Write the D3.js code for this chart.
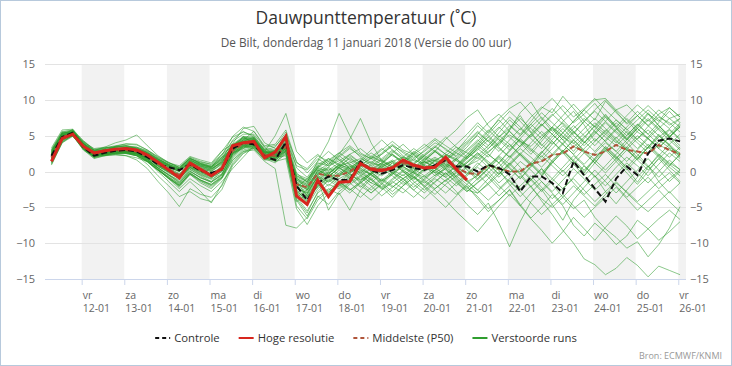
<!DOCTYPE html>
<html><head><meta charset="utf-8">
<script src="https://cdn.jsdelivr.net/npm/d3@7"></script>
<style>
html,body{margin:0;padding:0;background:#fff;}
svg{display:block;font-family:"Open Sans","Liberation Sans",sans-serif;}
</style></head><body>
<svg id="chart" width="732" height="366"></svg>
<script>
// ---------------- DATA ----------------
const titleText = "Dauwpunttemperatuur (˚C)";
const subtitleText = "De Bilt, donderdag 11 januari 2018 (Versie do 00 uur)";
const sourceText = "Bron: ECMWF/KNMI";
const dayNames = ["vr","za","zo","ma","di","wo","do","vr","za","zo","ma","di","wo","do","vr"];
const dayDates = ["12-01","13-01","14-01","15-01","16-01","17-01","18-01","19-01","20-01","21-01","22-01","23-01","24-01","25-01","26-01"];
const yTicks = [-15,-10,-5,0,5,10,15];
const firstHour = 7;   // first forecast step, hours after 11-01 00:00 (local time)
const stepHours = 6;   // 6-hourly forecast steps
const legendNames = ["Controle","Hoge resolutie","Middelste (P50)","Verstoorde runs"];

const hogeResolutie = [1.4,4.6,5.2,3.5,2.6,2.9,3.1,3.2,3.0,2.3,1.3,0.2,-0.9,1.2,0.3,-0.6,0.4,
  3.6,4.0,4.2,1.9,2.7,4.9,-3.4,-4.6,-1.2,-3.5,-1.5,-1.4,1.1,0.3,0.1,0.5,1.6,0.9,0.5,0.6,2.0,0.3,-1.2];

const controle = [2.2,4.8,5.4,3.4,2.2,2.6,2.9,3.0,2.8,2.0,1.0,0.6,0.2,1.0,0.1,-0.2,0.3,
  3.2,4.0,3.8,2.1,1.6,4.1,-2.0,-4.0,-1.6,-0.7,-1.2,-1.2,1.4,0.2,-0.3,0.2,0.9,0.5,0.2,0.9,1.6,0.7,0.7,
  0.0,0.9,0.5,-0.4,-2.8,-0.7,-0.7,-1.6,-3.0,1.4,-0.5,-2.4,-4.2,-1.0,0.7,-0.5,2.5,4.3,4.6,4.2];

const middelste = [2.0,4.8,5.3,3.6,2.4,2.7,2.9,3.0,2.8,2.1,1.1,0.3,-0.5,0.9,0.2,-0.4,0.4,
  2.9,3.9,4.0,2.3,2.2,3.5,-1.8,-2.2,-0.3,-0.6,-0.6,0.0,1.0,0.5,0.3,0.6,1.2,0.7,0.6,0.8,1.5,0.6,-0.2,
  -0.4,0.9,0.4,0.0,0.0,1.1,1.4,2.3,2.5,3.5,2.8,2.3,2.8,3.7,3.0,2.8,2.5,3.7,3.0,2.4];

const verstoordeRuns = [
 [1.2,4.2,5.6,4.0,2.9,3.0,3.4,3.6,3.3,2.6,1.6,0.8,0.0,1.5,0.9,0.6,1.8, 3.3,4.5,4.4,2.8,2.6,4.0, -1.0,-1.8, 0.4,0.1,0.8,1.2,1.8,1.1,0.9,1.4,2.0,1.5,1.2,1.6,2.3,1.5,0.8, 1.5,2.8,3.9,5.1,4.2,3.5,5.0,6.2,4.8,3.9,5.3,6.8,5.5,4.2,3.1,4.6,5.8,4.4,3.3,2.6],
 [2.5,5.0,5.0,3.2,2.0,2.3,2.5,2.6,2.2,1.0,-0.6,-2.0,-3.5,-2.8,-3.8,-4.2,-2.5, 0.8,2.5,3.2,1.8,1.2,2.6, -3.5,-5.5, -3.0,-1.8,-2.4,-1.5,-0.6,-1.6,-2.2,-1.0,0.2,-0.8,-1.6,-0.5,0.4,-1.2,-2.6, -3.0,-1.8,-0.4,1.2,-0.3,-2.1,-0.8,1.6,2.9,1.4,-0.2,1.8,3.5,2.2,0.4,-1.5,0.6,2.4,1.2,0.3],
 [3.0,5.5,5.8,3.4,2.0,2.8,3.5,3.9,3.8,3.0,1.9,1.2,0.6,2.0,1.4,1.0,2.8, 4.8,5.5,5.0,3.0,3.4,5.5, 0.5,-0.8, 1.2,0.8,1.5,2.4,3.2,2.0,1.4,2.6,3.8,2.4,1.6,2.8,4.5,5.8,7.5, 8.6,6.4,4.8,6.0,7.8,5.5,3.6,5.2,7.0,8.4,6.5,4.2,5.6,7.2,5.9,4.5,6.3,7.6,6.8,5.5],
 [0.9,4.0,4.9,3.9,3.0,2.6,2.4,2.2,1.9,1.4,0.2,-1.0,-2.0,-0.4,-1.4,-2.2,-0.9, 2.0,3.5,3.8,2.6,2.9,4.5, -2.6,-4.2, -1.5,-2.8,-2.0,-0.6,0.5,-0.5,-1.3,-0.4,0.7,-0.2,-0.8,0.2,1.0,-0.8,-2.2, -3.5,-5.2,-4.0,-2.5,-4.6,-6.5,-5.0,-3.2,-4.8,-7.5,-9.0,-7.2,-8.5,-10.2,-9.0,-6.8,-8.0,-9.6,-8.4,-7.0],
 [2.8,5.3,5.0,3.0,1.8,2.2,2.6,2.8,2.4,1.6,0.5,-0.5,-1.6,0.0,-0.9,-1.4,0.2, 2.6,3.6,3.7,2.0,1.8,3.0, -2.4,-3.0, -0.8,-1.5,-0.4,0.6,1.4,0.5,-0.3,0.8,1.6,0.4,-0.6,0.5,1.2,0.0,-1.4, -0.6,1.0,0.2,-1.8,-3.5,-2.0,-4.1,-6.0,-8.2,-10.0,-12.2,-13.0,-14.4,-13.5,-12.0,-13.1,-14.7,-13.2,-13.8,-14.4],
 [2.3,5.1,5.4,3.6,2.5,2.8,3.0,3.1,2.7,1.7,0.3,-0.8,-2.2,-0.4,-1.6,-2.4,-1.0, 1.5,3.0,3.4,2.2,2.0,3.2, -3.0,-4.5, -2.0,-1.0,-1.9,-0.8,0.2,-1.0,-2.5,-1.6,-0.4,-1.8,-3.0,-1.5,-0.2,-1.4,-2.8, -1.5,-0.2,1.2,-0.6,-2.4,-1.2,0.4,-1.8,-3.6,-5.2,-4.0,-6.4,-8.0,-9.2,-10.7,-9.8,-11.9,-10.2,-7.9,-4.9],
 [1.5,4.4,5.7,4.3,3.1,3.3,3.6,3.8,3.7,3.0,2.1,1.3,0.5,1.8,1.3,1.0,2.4, 4.2,5.2,5.2,3.4,3.6,5.0, -0.2,-1.5, 1.5,4.2,8.1,5.0,2.6,1.8,2.4,3.6,2.8,1.9,2.8,4.0,3.2,2.0,3.4, 5.2,6.8,8.0,6.5,5.2,7.0,8.8,10.2,8.5,6.8,8.0,9.5,7.6,6.2,7.8,9.3,8.0,7.0,8.9,7.6],
 [2.6,5.4,5.6,3.2,2.1,2.9,3.4,3.4,3.1,2.6,1.7,0.9,0.2,1.5,0.9,0.5,1.6, 3.5,4.8,4.6,2.4,2.2,3.8, -1.2,-2.0, 0.0,1.2,2.4,4.5,7.4,4.0,1.5,0.6,1.4,2.6,1.8,0.9,1.6,2.8,4.6, 6.4,5.0,3.6,5.8,8.2,9.7,7.4,5.6,6.8,5.5,4.0,5.4,7.0,8.6,7.2,5.5,4.6,6.0,7.4,6.2],
 [2.4,5.0,5.1,3.3,2.2,2.5,2.7,2.8,2.5,1.5,0.2,-1.0,-2.0,-0.2,-1.2,-1.8,-0.6, 1.8,3.2,3.6,2.0,1.4,2.4, -4.0,-6.2, -3.6,-2.4,-3.2,-1.8,-0.8,-2.0,-3.4,-2.2,-1.0,-2.6,-3.8,-2.4,-1.2,-2.8,-4.6, -6.0,-4.4,-7.2,-10.5,-7.0,-4.2,-2.5,-4.6,-6.8,-4.0,-2.2,-0.6,-2.8,-4.5,-2.6,-0.8,0.8,-1.4,-3.0,-1.6],
 [1.1,4.1,5.0,4.1,3.2,3.4,3.3,3.0,2.6,1.7,0.5,-0.5,-1.5,0.1,-0.9,-1.5,-0.4, 2.4,3.4,3.6,2.2,2.4,3.6, -2.2,-3.6, -1.2,-0.2,-1.4,-2.6,-1.6,-0.4,-1.8,-3.2,-2.0,-0.8,-2.2,-3.6,-5.0,-3.4,-2.0, -3.8,-5.6,-4.0,-2.6,-4.8,-6.6,-8.2,-10.0,-8.4,-6.4,-8.0,-9.6,-7.8,-6.2,-7.6,-9.4,-8.0,-6.6,-5.4,-6.7],
 [3.3,5.8,5.9,3.9,2.4,2.7,3.1,3.4,3.4,2.9,2.0,1.2,0.8,2.1,1.6,1.2,2.9, 3.8,4.2,4.8,3.2,3.0,4.4, 0.8,0.2, 1.8,0.8,2.0,3.2,2.2,1.2,2.6,3.8,2.6,1.6,3.0,4.4,3.0,2.2,3.8, 5.0,3.6,5.4,7.2,5.8,7.6,9.0,8.2,10.5,8.8,7.0,8.6,10.0,8.4,6.6,7.8,9.2,7.8,6.5,7.4],
 [1.4,4.3,5.1,3.5,2.4,2.4,2.5,2.6,2.5,2.0,1.2,0.5,-0.3,1.0,0.4,0.0,1.0, 2.8,3.8,4.1,2.5,2.3,3.4, -1.5,-2.4, 0.2,-0.6,0.4,1.0,0.2,-0.4,0.8,1.6,0.6,0.0,1.2,2.0,1.0,0.4,1.8, 3.2,2.0,4.0,5.6,4.2,2.8,4.6,6.2,5.0,3.4,4.8,6.4,5.2,4.0,5.6,4.4,3.2,4.8,5.9,4.6],
 [2.7,5.3,5.5,3.3,2.0,2.5,2.8,3.0,2.6,1.7,0.5,-0.4,-1.4,0.3,-0.6,-1.4,-0.4, 2.5,3.7,3.9,2.1,2.0,3.3, -2.8,-3.8, -1.8,-3.0,-1.6,-0.4,-1.4,-2.6,-1.2,0.0,-1.0,-2.2,-1.0,0.2,-0.8,-2.0,-0.6, 0.6,-0.8,-2.4,-1.0,0.4,-1.2,-2.8,-1.4,0.2,-1.6,-3.2,-1.8,-0.4,-2.0,-3.6,-2.2,-0.8,-2.4,-1.0,0.2],
 [1.9,4.9,5.0,3.8,2.8,2.6,2.7,2.9,3.0,2.5,1.6,0.9,0.2,1.6,1.0,0.5,1.9, 3.2,4.1,4.3,2.6,2.5,3.7, -1.6,-2.6, -0.2,0.6,-0.4,0.4,1.2,0.2,-0.6,0.4,1.4,0.8,0.0,0.8,1.8,0.6,-0.4, 0.8,2.4,1.2,3.0,4.6,3.2,2.0,3.8,5.4,4.0,2.6,4.2,5.8,4.4,3.0,1.8,3.4,5.0,3.6,2.2],
 [2.6,5.1,5.2,3.3,2.1,2.4,2.6,2.6,2.3,1.4,0.0,-1.4,-2.8,-1.4,-2.8,-4.4,-1.8, 1.2,2.8,3.3,1.6,1.6,2.8, -4.8,-6.6, -4.0,-2.6,-1.4,-2.4,-3.6,-2.2,-1.0,-2.0,-3.0,-1.6,-0.6,-1.8,-3.0,-1.6,-0.4, 1.2,0.0,-1.6,-0.2,1.4,0.2,-1.4,-2.8,-1.2,0.4,-1.0,-2.6,-1.2,0.6,2.0,0.8,-0.6,1.0,2.6,1.4],
 [2.4,4.9,5.0,3.1,1.9,2.2,2.3,2.2,1.6,0.4,-1.4,-3.0,-4.9,-2.4,-3.2,-3.6,-2.0, 1.0,2.6,3.4,2.2,1.8,3.0, -3.8,-5.8, -2.8,-1.2,0.2,-1.0,-2.2,-0.8,0.4,-0.6,-1.8,-0.4,0.8,-0.2,-1.4,0.0,1.2, 2.6,1.2,-0.4,1.0,2.4,1.0,-0.6,1.2,2.8,1.4,0.0,1.6,3.2,1.8,0.2,1.8,3.4,2.0,0.6,-0.6],
 [1.8,4.7,5.6,4.0,2.9,3.4,4.0,4.4,5.1,3.6,2.2,1.2,0.6,1.8,1.2,0.8,2.2, 4.9,6.2,5.6,3.6,3.8,5.8, 1.2,0.4, 2.2,1.4,2.6,3.6,2.4,1.8,3.0,4.2,3.0,2.4,3.4,4.6,3.6,2.6,4.0, 5.4,4.2,6.0,7.6,6.2,4.8,6.4,8.0,6.6,5.2,7.0,8.4,7.0,5.6,4.4,6.0,7.4,6.0,4.8,6.2],
 [2.9,5.4,5.5,3.5,2.2,2.6,3.0,3.2,3.1,2.5,1.5,0.8,0.3,1.6,1.0,0.6,2.4, 3.6,4.6,4.5,2.8,5.0,8.1, 2.8,1.2, 2.4,1.0,2.2,3.4,2.0,0.8,1.8,3.0,2.0,1.2,2.4,3.6,2.4,1.6,2.8, 4.2,5.8,4.4,3.0,4.6,6.2,7.6,6.0,4.4,6.0,7.4,6.2,4.8,3.6,5.0,6.6,5.2,3.8,5.2,6.8],
 [1.6,4.5,5.2,3.2,2.6,2.9,2.6,2.5,2.2,1.3,0.2,-0.9,-1.9,-0.3,-1.2,-1.8,-0.8, 1.6,2.8,3.0,1.4,0.4,-7.5, -7.9,-6.4, -3.4,-4.6,-2.8,-1.6,-2.8,-4.0,-2.6,-1.4,-2.4,-3.6,-2.2,-1.0,-2.0,-3.2,-1.8, -0.4,-1.8,-3.4,-2.0,-0.6,-2.2,-3.8,-5.0,-3.6,-2.0,-3.4,-4.8,-3.2,-1.6,-2.8,-4.2,-2.8,-1.4,-0.2,-1.6],
 [2.2,4.6,5.1,3.9,2.7,2.4,2.8,3.3,3.0,2.0,0.7,-0.2,-1.0,0.5,-0.4,-1.0,0.9, 2.9,4.0,4.2,2.4,2.1,3.2, -2.0,-3.4, -1.2,-5.4,-3.0,-5.4,-2.6,-1.0,-2.2,-3.6,-2.0,-0.8,-2.0,-3.2,-1.8,-0.6,-1.8, -3.0,-1.6,0.0,-1.4,-2.8,-1.2,0.4,-1.0,-2.4,-0.8,0.8,-0.6,-2.0,-0.4,1.2,-0.2,-1.6,0.0,1.6,0.2],
 [3.1,5.6,5.7,3.7,2.3,2.9,3.2,3.1,2.8,2.4,1.5,0.7,0.0,1.3,0.7,0.2,1.4, 3.4,4.4,4.4,2.7,2.6,3.9, -0.8,-1.4, 0.6,1.8,1.0,0.2,1.4,2.6,1.6,0.8,2.0,3.2,2.2,1.4,2.6,3.8,5.2, 6.8,5.4,7.4,8.8,9.7,8.0,6.4,7.8,9.2,7.6,8.8,10.2,8.6,7.2,5.8,7.2,8.6,7.2,6.0,7.4],
 [1.3,4.2,5.0,3.3,2.5,2.9,3.1,3.2,2.5,1.6,0.7,0.0,-0.8,0.6,0.0,-0.5,0.2, 2.9,3.9,4.0,2.3,2.2,3.5, -1.7,-2.2, -0.4,0.4,-0.6,0.2,1.0,0.0,0.6,1.4,0.4,-0.2,1.0,1.8,0.8,0.2,1.4, 2.6,1.4,0.2,1.8,3.2,2.0,0.6,2.2,3.8,2.4,1.0,2.6,4.0,2.8,1.4,3.0,4.6,3.2,2.0,3.4],
 [2.0,5.2,5.8,3.9,2.6,3.1,3.0,2.8,2.6,2.3,1.4,0.7,0.1,1.4,0.6,0.1,1.2, 3.1,4.2,4.2,2.6,2.4,3.6, -1.4,-2.0, 0.0,-0.8,0.6,1.4,0.4,-0.4,0.6,1.4,0.2,-0.8,0.4,1.6,0.6,-0.6,0.8, 2.2,3.6,5.0,3.8,2.4,4.0,5.6,4.2,2.8,4.4,6.0,7.4,6.0,4.6,6.2,7.8,6.4,5.0,3.8,5.2],
 [2.5,4.8,5.2,3.1,2.2,2.5,2.9,2.6,2.2,1.5,0.5,-0.5,-1.2,0.3,-0.5,-1.1,-0.3, 2.6,3.6,3.9,2.2,2.0,3.0, -2.2,-3.0, -0.6,-1.4,-0.2,0.8,-0.2,-1.2,0.2,1.2,0.0,-1.0,0.4,1.4,0.2,-1.0,-2.4, -1.0,0.4,1.8,0.4,-1.0,0.6,2.2,0.8,-0.6,1.0,2.6,1.2,-0.2,1.4,3.0,1.6,0.2,1.8,3.2,1.8],
 [1.6,4.9,5.9,4.2,3.0,3.2,3.4,3.6,3.2,2.7,1.8,1.0,0.4,1.9,1.1,0.7,2.0, 3.7,4.7,4.7,2.9,2.8,4.2, -0.4,-1.0, 0.8,0.2,1.2,2.2,1.2,0.6,1.6,2.8,1.8,1.0,2.2,3.4,2.4,1.8,3.0, 4.4,3.2,4.8,6.4,5.0,6.6,8.2,6.8,5.4,7.0,8.6,7.2,9.8,8.2,6.8,8.4,7.0,8.6,7.4,8.0],
 [2.9,5.2,5.0,3.0,2.1,2.3,2.6,2.7,2.4,1.5,0.3,-0.7,-1.8,-0.2,-1.2,-1.9,-0.8, 2.4,3.4,3.6,1.9,1.6,2.6, -3.2,-4.8, -2.4,-1.2,-2.2,-1.0,0.0,-1.2,-2.4,-1.2,0.0,-1.4,-2.6,-1.4,-0.2,-1.6,-2.8, -1.6,-0.4,-2.0,-3.4,-2.0,-0.6,-2.2,-3.8,-2.4,-1.0,-2.6,-4.2,-2.8,-1.4,-3.0,-4.4,-5.6,-4.2,-2.8,-4.4],
 [1.5,4.5,5.4,3.8,2.7,3.1,3.3,3.3,3.0,2.4,1.4,0.6,0.0,1.4,0.8,0.3,1.4, 3.3,4.3,4.4,2.7,2.6,3.9, -1.0,-1.6, 0.6,1.4,0.4,-0.2,0.8,1.8,1.0,0.2,1.2,2.2,1.4,0.6,1.6,2.6,1.8, 3.0,4.4,3.2,2.0,3.6,5.2,6.6,5.2,3.8,5.4,7.0,5.6,4.2,5.8,7.4,6.0,4.6,3.4,4.8,6.4],
 [2.0,4.7,5.1,3.5,2.4,2.2,2.4,2.5,2.2,1.4,0.2,-0.9,-1.9,-0.3,-1.3,-2.0,-0.9, 2.2,3.3,3.5,1.8,1.6,2.8, -3.0,-4.2, -1.8,-0.6,-1.8,-3.0,-1.6,-0.4,-1.6,-2.8,-1.4,-0.2,-1.4,-2.6,-4.0,-5.6,-7.0, -8.4,-6.6,-4.8,-3.2,-4.8,-3.0,-1.4,-3.0,-4.6,-3.0,-1.4,0.2,-1.4,-3.0,-1.4,0.2,1.8,0.2,-1.4,0.0],
 [2.3,5.2,5.6,3.4,2.2,2.9,3.3,3.0,2.6,2.0,1.0,0.2,-0.6,0.8,0.0,-0.6,0.4, 3.0,4.0,4.2,2.5,2.3,3.6, -1.8,-2.5, 0.2,-0.4,1.0,0.4,-0.6,0.4,1.2,0.2,-0.6,0.6,1.4,0.4,-0.4,0.8,2.0, 3.4,4.8,6.2,4.8,3.4,5.0,6.6,5.2,3.8,2.4,4.0,5.6,4.2,2.8,4.4,6.0,4.6,3.2,4.8,6.2],
 [1.0,4.0,5.2,3.9,2.9,3.2,3.5,3.5,3.2,2.6,1.7,1.0,0.4,1.8,1.1,0.6,1.7, 3.5,4.6,4.6,2.8,2.7,4.1, -0.6,-1.2, 1.0,1.8,0.8,0.0,1.2,2.2,1.4,0.6,1.6,2.8,2.0,1.0,2.2,3.4,2.6, 1.8,3.2,4.6,3.4,5.0,6.6,5.2,3.8,5.4,7.0,8.6,10.0,10.2,8.6,9.3,7.8,6.4,8.0,8.9,7.6],
 [2.7,5.4,5.3,3.2,2.0,2.3,2.5,2.6,2.3,1.4,0.2,-0.8,-1.7,0.0,-0.8,-1.5,-0.5, 2.5,3.5,3.7,2.0,1.8,2.9, -2.6,-3.6, -1.4,-0.4,-1.6,-2.6,-1.4,-0.2,-1.2,-2.2,-1.0,0.0,-1.2,-2.4,-1.2,-0.2,-1.4, -2.6,-4.0,-2.6,-1.2,-2.8,-4.4,-6.0,-4.6,-3.2,-4.8,-6.4,-5.0,-3.6,-2.2,-3.8,-5.4,-4.0,-2.6,-4.2,-5.6],
 [2.1,4.9,5.4,3.6,2.4,2.7,2.9,3.0,2.8,2.1,1.1,0.3,-0.5,0.9,0.2,-0.4,0.4, 2.9,3.9,4.0,2.3,2.2,3.5, -1.8,-2.2, -0.3,-0.6,-0.6,0.0,1.0,0.5,0.3,0.6,1.2,0.7,0.6,0.8,1.5,0.6,-0.2, -0.4,0.9,0.4,0.0,0.0,1.1,1.4,2.3,2.5,3.5,2.8,2.3,2.8,3.7,3.0,2.8,2.5,3.7,3.0,2.4],
 [1.7,4.4,5.0,3.6,2.6,2.9,3.1,2.9,2.5,1.9,0.8,-0.1,-1.0,0.5,-0.3,-0.9,0.0, 2.7,3.7,3.8,2.1,2.0,3.2, -2.0,-2.8, -0.8,0.0,-1.0,-0.2,0.6,1.4,0.6,-0.2,0.8,1.8,0.8,-0.2,0.8,1.8,0.6, -0.6,0.8,2.2,1.0,-0.4,1.2,2.8,1.4,0.0,1.6,3.2,4.6,3.2,1.8,3.4,5.0,3.6,2.2,0.8,2.4],
 [2.4,5.3,5.7,3.9,2.5,2.7,2.9,3.4,3.3,2.7,1.7,0.9,0.3,1.7,0.8,0.4,1.3, 3.4,4.4,4.4,2.7,2.6,3.8, -1.2,-1.8, 0.6,-0.2,0.8,1.8,1.0,0.2,1.2,2.4,1.4,0.4,1.6,2.8,1.6,0.6,2.0, 3.6,2.4,1.2,2.8,4.4,3.0,1.6,3.2,4.8,6.4,5.0,3.6,5.2,6.8,5.4,4.0,2.6,4.2,5.8,4.4],
 [2.0,4.8,5.0,3.2,2.6,2.9,3.0,2.7,2.4,1.8,0.8,-0.1,-0.9,0.6,-0.1,-0.8,0.0, 2.8,3.8,4.0,2.3,2.1,3.3, -2.1,-3.2, -1.0,-0.2,0.6,-0.4,-1.2,-0.2,0.8,-0.2,-1.0,0.0,1.0,0.0,-0.8,0.2,1.2, 2.4,1.0,-0.4,1.2,2.6,1.2,-0.2,1.4,3.0,1.6,0.2,1.8,3.4,2.0,0.6,2.2,3.8,2.4,1.0,-0.2],
 [1.3,4.3,5.6,4.2,3.0,3.3,3.5,3.6,3.4,2.8,1.8,1.0,0.5,1.8,1.1,0.7,2.0, 3.8,4.9,4.8,3.0,2.9,4.3, -0.6,-1.4, 0.8,1.6,2.6,1.6,0.8,2.0,3.2,2.2,1.4,2.6,3.8,2.8,1.8,3.0,4.2, 5.6,4.2,2.8,4.4,6.0,4.6,3.2,4.8,6.4,5.0,3.6,5.2,6.8,5.4,4.0,5.6,7.2,5.8,4.4,3.0],
 [2.5,5.1,5.5,3.7,2.3,2.5,2.8,3.1,2.9,2.0,0.9,0.0,-0.9,0.6,-0.2,-0.7,0.3, 3.0,4.4,5.6,3.4,2.0,2.2, -4.2,-3.2, -0.6,0.6,1.8,0.4,-1.2,-0.2,1.2,2.4,1.0,0.2,1.4,0.6,-0.6,0.8,2.2, 3.8,5.6,7.2,5.6,4.0,2.4,4.2,6.0,4.4,2.8,4.6,6.4,8.0,6.2,4.6,6.4,8.2,6.4,4.8,6.6],
 [1.6,4.6,5.2,3.4,2.8,3.1,2.9,2.6,2.4,1.9,1.0,0.1,-0.6,0.7,0.5,0.2,1.6, 4.4,5.6,4.8,2.2,3.0,4.6, -2.8,-4.0, -2.0,-0.4,1.0,2.4,1.2,0.0,-1.4,-0.2,1.2,2.4,0.8,-0.6,0.6,1.8,0.4, -1.0,0.6,2.2,3.8,2.2,0.8,2.6,4.4,6.0,4.4,2.8,1.2,3.0,4.8,3.2,1.6,3.4,5.2,3.6,2.0],
 [2.2,4.9,5.3,3.9,2.6,2.4,2.6,2.8,2.6,1.8,0.4,-1.0,-2.4,-1.0,-2.0,-2.8,-1.4, 0.4,2.0,3.6,2.6,1.4,1.8, -5.2,-7.4, -4.8,-3.0,-1.4,-0.2,-1.6,-3.0,-1.8,-0.4,0.8,-0.6,-2.0,-0.8,0.4,1.6,0.2, -1.2,0.4,2.0,0.6,-1.0,0.8,2.6,4.2,2.6,1.0,-0.6,1.2,3.0,1.4,-0.2,-1.8,0.0,1.8,0.2,-1.4],
 [1.8,4.8,5.4,3.6,2.5,2.9,3.2,3.0,2.7,2.3,1.5,0.8,0.1,1.2,0.4,0.0,1.1, 3.9,6.0,6.3,4.0,3.2,3.0, -0.8,-2.6, -0.4,1.0,2.2,1.0,-0.2,1.0,2.4,3.6,2.2,1.0,2.2,3.4,4.8,3.4,2.0, 3.6,5.2,6.8,8.4,7.0,5.4,7.2,8.8,7.2,5.6,4.0,5.8,7.6,6.0,4.4,6.2,8.0,6.4,4.8,3.2],
 [2.0,4.7,5.1,3.4,2.3,2.6,2.9,3.0,2.7,2.1,1.2,0.4,-0.4,0.9,0.3,-0.3,0.6, 2.6,3.2,4.6,3.0,1.8,2.8, -1.4,-3.4, -2.2,-0.8,0.6,-0.8,-2.0,-3.0,-1.6,-0.2,-1.4,-2.6,-1.2,0.2,1.4,0.0,-1.2, -2.6,-1.0,0.6,2.2,0.6,-1.0,-2.6,-1.0,0.6,2.2,0.8,-0.8,0.8,2.4,4.0,2.4,0.8,-0.8,0.8,2.4],
 [2.3,5.0,5.6,3.8,2.4,2.7,3.1,3.3,3.0,2.4,1.4,0.6,0.0,1.3,0.7,0.4,1.2, 3.0,4.9,3.8,2.0,2.6,5.2, 1.4,-0.2, 1.4,2.8,1.6,0.4,1.6,3.0,4.4,3.0,1.6,0.6,1.8,3.0,1.8,0.8,2.4, 4.0,2.6,4.2,5.8,7.4,6.0,4.6,6.2,7.8,9.4,7.8,6.2,7.8,6.4,5.0,6.6,5.2,6.8,8.4,6.8],
 [1.9,4.6,5.0,3.3,2.2,2.6,2.7,2.7,2.5,1.9,0.9,0.1,-0.7,0.8,0.0,-0.5,0.4, 2.2,3.6,3.2,1.6,2.4,3.8, -3.6,-2.6, -0.8,-2.0,-0.6,0.8,-0.4,-1.6,-0.2,1.2,0.0,-1.2,0.2,1.6,0.4,-0.8,0.6, 2.0,0.6,-0.8,0.8,2.4,1.0,-0.4,1.2,2.8,4.4,3.0,1.6,0.2,1.8,3.4,2.0,0.6,2.2,3.8,2.4],
 [2.1,5.0,5.4,3.5,2.6,2.8,2.9,3.1,2.9,2.3,1.2,0.3,-0.5,1.0,0.2,-0.3,0.7, 3.6,4.8,4.0,2.6,2.8,4.8, -2.2,-1.0, 0.4,-0.8,0.6,2.0,0.8,-0.4,1.0,2.4,1.2,0.0,1.4,2.8,1.6,0.4,1.8, 3.2,4.8,3.4,2.0,3.6,5.2,3.8,2.4,4.0,5.6,4.2,2.8,4.4,6.0,4.6,3.2,4.8,6.4,5.0,3.6]
];

// ---------------- CHART ----------------
const W = 732, H = 366;
const svg = d3.select("#chart");
const plot = {left: 45, right: 686, top: 64, bottom: 279};

const x = d3.scaleLinear().domain([3.35, 364.35]).range([plot.left, plot.right]);
const y = d3.scaleLinear().domain([-15, 15]).range([plot.bottom, plot.top]);
const hourOf = i => firstHour + stepHours * i;

// outer border
svg.append("rect").attr("x", 0.5).attr("y", 0.5).attr("width", W - 1).attr("height", H - 1)
  .attr("fill", "#fff").attr("stroke", "#b7c9dc").attr("stroke-width", 1);

// alternate day bands
const bands = dayDates.map((d, k) => k).filter(k => k % 2 === 0);
svg.append("g").selectAll("rect").data(bands).join("rect")
  .attr("x", k => x(24 * (k + 1)))
  .attr("width", k => Math.min(x(24 * (k + 2)), plot.right) - x(24 * (k + 1)))
  .attr("y", plot.top).attr("height", plot.bottom - plot.top)
  .attr("fill", "#f2f2f2");

// horizontal grid
svg.append("g").selectAll("line").data(yTicks).join("line")
  .attr("x1", plot.left).attr("x2", plot.right)
  .attr("y1", d => Math.round(y(d)) + 0.5).attr("y2", d => Math.round(y(d)) + 0.5)
  .attr("stroke", "#e3e3e3").attr("stroke-width", 1);

// y axes (left and right)
const yl = svg.append("g").attr("transform", `translate(${plot.left},0)`)
  .call(d3.axisLeft(y).tickValues(yTicks).tickSize(0).tickPadding(10));
const yr = svg.append("g").attr("transform", `translate(${plot.right},0)`)
  .call(d3.axisRight(y).tickValues(yTicks).tickSize(0).tickPadding(4));
[yl, yr].forEach(g => {
  g.select(".domain").remove();
  g.selectAll("text").attr("fill", "#666").style("font-size", "11px")
    .style("font-family", '"Open Sans","Liberation Sans",sans-serif');
});

// x axis
const xTickHours = dayDates.map((d, k) => 24 * (k + 1));
const xa = svg.append("g").attr("transform", `translate(0,${plot.bottom})`)
  .call(d3.axisBottom(x).tickValues(xTickHours).tickSize(6).tickFormat(""));
xa.select(".domain").attr("stroke", "#ccd6eb").attr("d", `M${plot.left},0.5H${plot.right}`);
xa.selectAll(".tick line").attr("stroke", "#ccd6eb");
const xl = svg.append("g").selectAll("text").data(xTickHours).join("text")
  .attr("x", h => x(h) + 1).attr("y", plot.bottom + 20)
  .attr("fill", "#666").style("font-size", "10.5px");
xl.append("tspan").text((h, k) => dayNames[k]);
xl.append("tspan").attr("x", h => x(h) + 1).attr("dy", 12.5).text((h, k) => dayDates[k]);

// clip
svg.append("clipPath").attr("id", "clip").append("rect")
  .attr("x", plot.left).attr("y", plot.top - 5).attr("width", plot.right - plot.left).attr("height", plot.bottom - plot.top + 10);

const line = d3.line().x((d, i) => x(hourOf(i))).y(d => y(d));
const series = svg.append("g").attr("clip-path", "url(#clip)");

series.selectAll("path.run").data(verstoordeRuns).join("path").attr("class", "run")
  .attr("d", line).attr("fill", "none")
  .attr("stroke", "#2c9a2c").attr("stroke-opacity", 0.55).attr("stroke-width", 1);

series.append("path").attr("d", line(middelste)).attr("fill", "none")
  .attr("stroke", "#b0553a").attr("stroke-width", 2).attr("stroke-dasharray", "5,3");
series.append("path").attr("d", line(controle)).attr("fill", "none")
  .attr("stroke", "#111").attr("stroke-width", 2).attr("stroke-dasharray", "6,3");
series.append("path").attr("d", line(hogeResolutie)).attr("fill", "none")
  .attr("stroke", "#d7261e").attr("stroke-width", 3);

// titles
svg.append("text").attr("x", W / 2).attr("y", 24).attr("text-anchor", "middle")
  .attr("fill", "#333").style("font-size", "17.5px").text(titleText);
svg.append("text").attr("x", W / 2).attr("y", 47).attr("text-anchor", "middle")
  .attr("fill", "#555").style("font-size", "11.8px").text(subtitleText);

// legend
const legendStyles = [
  {stroke: "#111", dash: "4,3", w: 2},
  {stroke: "#d7261e", dash: null, w: 2},
  {stroke: "#b0553a", dash: "4,3", w: 2},
  {stroke: "#2f9e2f", dash: null, w: 2}
];
const lg = svg.append("g");
let cx = 0;
legendNames.forEach((name, i) => {
  const g = lg.append("g");
  g.append("line").attr("x1", 0).attr("x2", 15).attr("y1", 0).attr("y2", 0)
    .attr("stroke", legendStyles[i].stroke).attr("stroke-width", legendStyles[i].w)
    .attr("stroke-dasharray", legendStyles[i].dash);
  const t = g.append("text").attr("x", 19).attr("y", 4.3).attr("fill", "#333")
    .style("font-size", "11.3px").text(name);
  const wdt = 19 + t.node().getComputedTextLength();
  g.attr("transform", `translate(${cx},0)`);
  cx += wdt + 19;
});
const totalW = cx - 19;
lg.attr("transform", `translate(${W / 2 - totalW / 2},338)`);

svg.append("text").attr("x", 722).attr("y", 359).attr("text-anchor", "end")
  .attr("fill", "#999").style("font-size", "9px").text(sourceText);
</script></body></html>
